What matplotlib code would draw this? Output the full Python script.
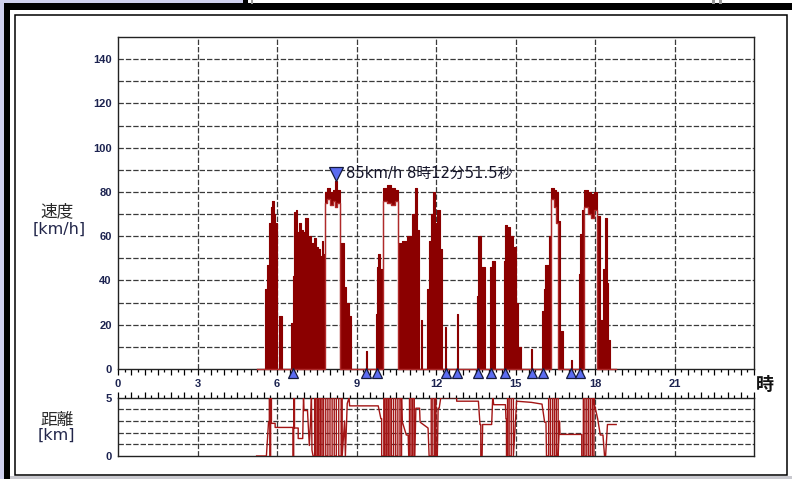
import numpy as np
import matplotlib
matplotlib.use("Agg")
import matplotlib.pyplot as plt
from matplotlib.patches import Rectangle
from matplotlib.ticker import MultipleLocator, FuncFormatter

plt.rcParams['font.family'] = ['Liberation Sans', 'Noto Sans CJK JP', 'DejaVu Sans']
JP = ['Noto Sans CJK JP', 'DejaVu Sans']
LAT = ['DejaVu Sans', 'Noto Sans CJK JP']

W, H = 792, 479

# ---- speed trace: segment start [h], lower / upper edge of the band [km/h]
spd_t = [5.23, 5.55, 5.62, 5.71, 5.78, 5.82, 5.88, 5.92, 6.00, 6.09, 6.17,
         6.54, 6.59, 6.63, 6.72, 6.77, 6.83, 6.90, 6.98, 7.05, 7.17, 7.30, 7.40,
         7.48, 7.55, 7.63, 7.70, 7.75,
         7.80, 7.90, 8.00, 8.10, 8.20, 8.26, 8.36,
         8.40, 8.52, 8.60, 8.70, 8.78, 9.35, 9.39,
         9.73, 9.79, 9.83, 9.90,
         10.01, 10.15, 10.30, 10.45,
         10.55, 10.70, 10.90, 11.08, 11.20, 11.28, 11.36, 11.44, 11.48,
         11.65, 11.72, 11.80, 11.90, 11.95, 12.02, 12.08, 12.15, 12.21,
         12.34, 12.39, 12.79, 12.83,
         13.53, 13.59, 13.70, 13.86, 14.03, 14.12, 14.24,
         14.56, 14.62, 14.67, 14.72, 14.80, 14.92, 15.02, 15.11, 15.19, 15.60, 15.64,
         15.99, 16.07, 16.12, 16.28,
         16.34, 16.45, 16.52, 16.62, 16.68, 16.72, 16.80,
         17.09, 17.12,
         17.39, 17.45, 17.52,
         17.58, 17.75, 17.85, 17.95,
         18.06, 18.19, 18.31, 18.38, 18.44, 18.50, 18.57]
spd_lo = [0, 0, 0, 0, 0, 0, 0, 0, 0, 0, 0,
          0, 0, 0, 0, 0, 0, 0, 0, 0, 0, 0, 0,
          0, 0, 0, 0, 0,
          75, 77, 74, 76, 73, 75, 0,
          0, 0, 0, 0, 0, 0, 0,
          0, 0, 0, 0,
          76, 75, 74, 76,
          0, 0, 0, 0, 0, 0, 0, 0, 0,
          0, 0, 0, 0, 0, 0, 0, 0, 0,
          0, 0, 0, 0,
          0, 0, 0, 0, 0, 0, 0,
          0, 0, 0, 0, 0, 0, 0, 0, 0, 0, 0,
          0, 0, 0, 0,
          77, 73, 66, 0, 0, 0, 0,
          0, 0,
          0, 0, 0,
          73, 70, 68, 72,
          0, 0, 0, 0, 0, 0, 0]
spd_hi = [0, 36, 47, 66, 73, 76, 70, 66, 0, 24, 0,
          21, 42, 71, 72, 62, 66, 63, 62, 68, 60, 57, 59,
          55, 54, 51, 58, 52,
          80, 82, 80, 81, 85, 81, 0,
          57, 37, 30, 24, 0, 8, 0,
          25, 46, 52, 45,
          82, 83, 82, 81,
          57, 58, 60, 70, 82, 63, 0, 22, 0,
          36, 58, 70, 80, 66, 72, 72, 54, 0,
          19, 0, 25, 0,
          33, 60, 46, 0, 46, 49, 0,
          49, 65, 61, 64, 60, 55, 30, 10, 0, 9, 0,
          26, 36, 47, 60,
          82, 81, 80, 67, 0, 17, 0,
          4, 0,
          43, 61, 72,
          81, 80, 79, 80,
          69, 22, 45, 68, 39, 13, 0]
trace_end = 18.80

# start/stop markers and the maximum speed
stop_t = [6.59, 9.36, 9.78, 12.37, 12.80, 13.57, 14.06, 14.60, 15.61, 16.05, 17.08, 17.43]
max_t, max_v = 8.214, 85
max_label = "85km/h 8時12分51.5秒"

# ---- distance trace [h], [km]
dist_t = [5.23, 5.60, 5.68, 5.71, 5.71, 5.73, 5.73, 5.76, 5.76, 5.79, 5.79, 5.93, 5.93, 6.60, 6.60,
          6.63, 6.63, 6.66, 6.66, 6.80, 6.80, 6.97, 7.00, 7.02, 7.15, 7.22, 7.27, 7.30, 7.32, 7.36,
          7.42, 7.42, 7.47, 7.47, 7.53, 7.53, 7.58, 7.58, 7.64, 7.64, 7.70, 7.70, 7.76, 7.76,
          7.84, 7.84, 7.92, 7.92, 8.00, 8.00, 8.08, 8.08, 8.16, 8.16, 8.24, 8.24, 8.33, 8.33,
          8.42, 8.42, 8.46, 8.46, 8.55, 8.58, 8.65, 8.72, 8.74,
          9.82, 9.92, 9.95, 9.95,
          10.03, 10.03, 10.08, 10.08, 10.14, 10.14, 10.20, 10.20, 10.26, 10.26, 10.32, 10.32,
          10.40, 10.40, 10.48, 10.48, 10.56, 10.56, 10.64, 10.64, 10.70, 10.70, 10.72, 10.80,
          10.88, 10.95, 10.97, 11.00, 11.00, 11.06, 11.06, 11.12, 11.12, 11.18, 11.18, 11.20,
          11.24, 11.38, 11.40, 11.70, 11.74, 11.80, 11.82, 11.82, 11.88, 11.88, 11.95, 11.95,
          12.00, 12.00, 12.05, 12.08, 12.12, 12.18, 12.78, 12.78, 13.60, 13.66, 13.69, 13.69,
          13.74, 13.76, 14.10, 14.14, 14.18, 14.62, 14.64, 14.66, 14.66, 14.70, 14.70, 14.76,
          14.76, 14.84, 14.84, 14.92, 14.92, 15.00, 15.04, 15.60, 16.00, 16.10, 16.15, 16.17,
          16.22, 16.25, 16.25, 16.32, 16.32, 16.40, 16.40, 16.47, 16.47, 16.54, 16.54, 16.61,
          16.61, 16.66, 16.68, 17.50, 17.50, 17.56, 17.56, 17.62, 17.62, 17.69, 17.69, 17.76,
          17.76, 17.83, 17.83, 17.90, 17.90, 17.96, 17.96, 17.98, 18.10, 18.20, 18.30, 18.36,
          18.40, 18.47, 18.80]
dist_km = [0, 0, 2.9, 2.9, 5, 5, 0, 0, 5, 5, 2.8, 2.8, 2.45, 2.45, 0,
           0, 5, 5, 2.4, 2.4, 1.5, 1.5, 5, 3.9, 3.9, 0.9, 3.2, 5, 0.5, 0,
           0, 5, 5, 0, 0, 5, 5, 0, 0, 5, 5, 0, 0, 5,
           5, 0, 0, 5, 5, 0, 0, 5, 5, 0, 0, 5, 5, 0,
           0, 5, 5, 0, 3, 0, 4.5, 5, 4.3,
           4.3, 3.2, 3.2, 0,
           0, 5, 5, 0, 0, 5, 5, 0, 0, 5, 5, 0,
           0, 5, 5, 0, 0, 5, 5, 0, 0, 5, 3.0, 2.4,
           1.8, 1.8, 0, 0, 5, 5, 0, 0, 5, 5, 0, 0,
           4.1, 4.1, 2.9, 2.4, 0, 0, 0, 5, 5, 0, 0, 5,
           5, 0, 0, 4.1, 4.1, 5, 5, 4.7, 4.7, 2.7, 2.7, 0,
           0, 2.7, 2.7, 5, 4.4, 4.4, 3.2, 3.2, 0, 0, 5, 5,
           0, 0, 5, 5, 0, 3, 4.7, 4.6, 4.45, 2.9, 2.9, 0,
           0, 0, 5, 5, 0, 0, 5, 5, 0, 0, 5, 5,
           0, 3, 1.85, 1.85, 0, 0, 5, 5, 0, 0, 5, 5,
           0, 0, 5, 5, 0, 0, 5, 4.4, 3.2, 1.8, 1.8, 0,
           0, 2.7, 2.7]

hour_ticks = [0, 3, 6, 9, 12, 15, 18, 21]
speed_ticks = [0, 20, 40, 60, 80, 100, 120, 140]

RED = '#8b0000'
NAVY = '#1c2350'
GRID = dict(color='#3a3a3a', lw=0.9, dashes=(4.3, 1.6), zorder=1)


def px_rect(x, y, w, h, **kw):
    return Rectangle((x / W, 1 - (y + h) / H), w / W, h / H,
                     transform=fig.transFigure, **kw)


fig = plt.figure(figsize=(W / 100, H / 100), dpi=100)
fig.patch.set_facecolor('white')

# window frame around the chart
fig.add_artist(px_rect(0, 0, 3.5, H, color='#cfd0ee', lw=0))
fig.add_artist(px_rect(0, 0, 243, 3.5, color='#cfd0ee', lw=0))
fig.add_artist(px_rect(3.5, 3.5, 6.5, H, color='black', lw=0))
fig.add_artist(px_rect(3.5, 3.5, W, 6.5, color='black', lw=0))
fig.add_artist(px_rect(243, 0, 5, 4, color='black', lw=0))
fig.add_artist(px_rect(251, 0, 2, 4, color='#9a9a9a', lw=0))
fig.add_artist(px_rect(712, 0, 3, 4, color='#9a9a9a', lw=0))
fig.add_artist(px_rect(719, 0, 3, 4, color='#9a9a9a', lw=0))
fig.add_artist(px_rect(10, 476, W, 3, color='#c9c9cf', lw=0))
fig.add_artist(px_rect(14.5, 14.5, 772.5, 460, fill=False, ec='black', lw=1.1))

# ---- speed panel
ax = fig.add_axes([118 / W, 1 - 369 / H, 636 / W, 332 / H])
t = np.r_[spd_t, trace_end]
lo = np.r_[spd_lo, 0]
hi = np.r_[spd_hi, 0]
ax.fill_between(t, lo, hi, step='post', color=RED, lw=0, zorder=3)
ax.plot(t, hi, drawstyle='steps-post', color=RED, lw=0.8, zorder=3)
ax.plot(t, lo, drawstyle='steps-post', color='#b02a2a', lw=1.0, zorder=3, clip_on=False)

for y in range(10, 150, 10):
    ax.axhline(y, **GRID)
for x in hour_ticks[1:]:
    ax.axvline(x, **GRID)

ax.plot(stop_t, [-2.0] * len(stop_t), ls='none', marker='^', ms=7.4,
        mfc='#5b6cf0', mec='#141a3c', mew=0.9, clip_on=False, zorder=6)
ax.plot([max_t], [max_v + 3.2], ls='none', marker='v', ms=10,
        mfc='#5b6cf0', mec='#141a3c', mew=0.9, zorder=6)
ax.text(8.60, 88.3, max_label, fontsize=10.6, family=LAT, color='#15152a',
        va='center', ha='left', zorder=6)

ax.set_xlim(0, 24)
ax.set_ylim(0, 150)
ax.set_yticks(speed_ticks)
ax.xaxis.set_major_locator(MultipleLocator(0.5))
ax.xaxis.set_minor_locator(MultipleLocator(0.25))
ax.xaxis.set_major_formatter(FuncFormatter(lambda v, p: str(int(v)) if v % 3 == 0 and v < 24 else ''))
ax.tick_params(axis='x', which='major', length=4, width=0.9, direction='out',
               labelsize=8, pad=3, labelcolor=NAVY)
ax.tick_params(axis='x', which='minor', length=2.2, width=0.9, direction='out')
ax.tick_params(axis='y', length=0, pad=4.5, labelsize=8, labelcolor=NAVY)
for lab in ax.get_xticklabels() + ax.get_yticklabels():
    lab.set_fontweight('bold')
for s in ax.spines.values():
    s.set_linewidth(1.0)
    s.set_color('#222222')

# ---- distance panel
ax2 = fig.add_axes([118 / W, 1 - 456 / H, 636 / W, 58.3 / H])
ax2.plot(dist_t, dist_km, color='#a31515', lw=1.0, zorder=3)
for y in range(1, 5):
    ax2.axhline(y, **GRID)
for x in hour_ticks[1:]:
    ax2.axvline(x, **GRID)
ax2.set_xlim(0, 24)
ax2.set_ylim(0, 5)
ax2.set_yticks([0, 5])
ax2.xaxis.tick_top()
ax2.xaxis.set_major_locator(MultipleLocator(0.5))
ax2.xaxis.set_minor_locator(MultipleLocator(0.25))
ax2.tick_params(axis='x', which='major', length=4, width=0.9, direction='out', labeltop=False)
ax2.tick_params(axis='x', which='minor', length=2.2, width=0.9, direction='out')
ax2.tick_params(axis='y', length=0, pad=4.5, labelsize=8, labelcolor=NAVY)
for lab in ax2.get_yticklabels():
    lab.set_fontweight('bold')
for s in ax2.spines.values():
    s.set_linewidth(1.0)
    s.set_color('#222222')

# axis titles
fig.text(57 / W, 1 - 212 / H, "速度", ha='center', va='center', fontsize=12,
         family=JP, color='#2a2a2a')
fig.text(59 / W, 1 - 229.5 / H, "[km/h]", ha='center', va='center', fontsize=11.5,
         family=LAT, color='#22264a')
fig.text(57 / W, 1 - 420 / H, "距離", ha='center', va='center', fontsize=12,
         family=JP, color='#2a2a2a')
fig.text(56 / W, 1 - 435.5 / H, "[km]", ha='center', va='center', fontsize=11.5,
         family=LAT, color='#22264a')
fig.text(765 / W, 1 - 384 / H, "時", ha='center', va='center', fontsize=13,
         family=JP, fontweight='bold', color='#111111')

fig.savefig("out.png", dpi=100)
